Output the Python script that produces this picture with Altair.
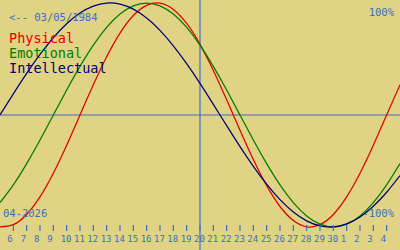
import altair as alt
import pandas as pd

# day index: 5 = April 5th 2026 ... 35 = May 5th 2026
days = list(range(5, 36))
physical = [-0.998, -0.979, -0.888, -0.731, -0.520, -0.270, 0.0, 0.270, 0.520, 0.731,
            0.888, 0.979, 0.998, 0.942, 0.817, 0.631, 0.398, 0.136, -0.136, -0.398,
            -0.631, -0.817, -0.942, -0.998, -0.979, -0.888, -0.731, -0.520, -0.270, 0.0, 0.270]
emotional = [-0.782, -0.624, -0.434, -0.223, 0.0, 0.223, 0.434, 0.624, 0.782, 0.901,
             0.975, 1.0, 0.975, 0.901, 0.782, 0.624, 0.434, 0.223, 0.0, -0.223,
             -0.434, -0.624, -0.782, -0.901, -0.975, -1.0, -0.975, -0.901, -0.782, -0.624, -0.434]
intellectual = [0.0, 0.189, 0.372, 0.541, 0.690, 0.815, 0.910, 0.972, 0.999, 0.990,
                0.945, 0.866, 0.756, 0.618, 0.458, 0.282, 0.095, -0.095, -0.282, -0.458,
                -0.618, -0.756, -0.866, -0.945, -0.990, -0.999, -0.972, -0.910, -0.815, -0.690, -0.541]

tick_days = list(range(6, 35))
tick_labels = [str(d) for d in range(6, 31)] + ["1", "2", "3", "4"]
today = 20

series_names = ["Physical", "Emotional", "Intellectual"]
series_colors = ["#e00000", "#007c00", "#00007c"]
birth_label = "<-- 03/05/1984"
month_label = "04-2026"
top_label = "100%"
bottom_label = "-100%"

BG = "#e0d383"
BLUE = "#3a6fc6"
MONO = "DejaVu Sans Mono"

rows = []
for name, vals in zip(series_names, [physical, emotional, intellectual]):
    for d, v in zip(days, vals):
        rows.append({"day": d, "value": v, "series": name})
df = pd.DataFrame(rows)

xs = alt.Scale(domain=[5, 35], nice=False, zero=False)
ys = alt.Scale(domain=[-1.2054, 1.0268], nice=False, zero=False)

base_axes = alt.Chart(pd.DataFrame({"day": [today], "value": [0]}))
vline = base_axes.mark_rule(color=BLUE, strokeWidth=1.2).encode(
    x=alt.X("day:Q", scale=xs, axis=None))
hline = base_axes.mark_rule(color=BLUE, strokeWidth=1.2).encode(
    y=alt.Y("value:Q", scale=ys, axis=None))

lines = alt.Chart(df).mark_line(strokeWidth=1.25, interpolate="natural", clip=True).encode(
    x=alt.X("day:Q", scale=xs, axis=None),
    y=alt.Y("value:Q", scale=ys, axis=None),
    color=alt.Color("series:N", scale=alt.Scale(domain=series_names, range=series_colors), legend=None),
    detail="series:N",
)

tdf = pd.DataFrame({"day": tick_days, "label": tick_labels})
ticks = alt.Chart(tdf).mark_rule(color=BLUE, strokeWidth=1.2).encode(
    x=alt.X("day:Q", scale=xs, axis=None), y=alt.value(225), y2=alt.value(231))
tick_text = alt.Chart(tdf).mark_text(color=BLUE, font=MONO, fontSize=9, align="left",
                                     baseline="alphabetic", dx=-6).encode(
    x=alt.X("day:Q", scale=xs, axis=None), y=alt.value(242), text="label:N")

legend_layers = []
for i, (name, col) in enumerate(zip(series_names, series_colors)):
    legend_layers.append(
        alt.Chart(pd.DataFrame({"t": [name]})).mark_text(
            color=col, font=MONO, fontSize=13.5, align="left", baseline="alphabetic").encode(
            x=alt.value(9), y=alt.value(43 + 15 * i), text="t:N"))

def label(txt, x, y, align="left"):
    return alt.Chart(pd.DataFrame({"t": [txt]})).mark_text(
        color=BLUE, font=MONO, fontSize=10.5, align=align, baseline="alphabetic").encode(
        x=alt.value(x), y=alt.value(y), text="t:N")

texts = [label(birth_label, 9, 21), label(month_label, 3, 217),
         label(top_label, 394, 16, "right"), label(bottom_label, 394, 217, "right")]

chart = alt.layer(hline, vline, lines, ticks, tick_text, *legend_layers, *texts).properties(
    width=400, height=250, background=BG, padding=0,
    autosize=alt.AutoSizeParams(type="none"),
).configure_view(stroke=None, fill=BG)

chart.save("out.html", embed_options={"renderer": "svg", "actions": False})
